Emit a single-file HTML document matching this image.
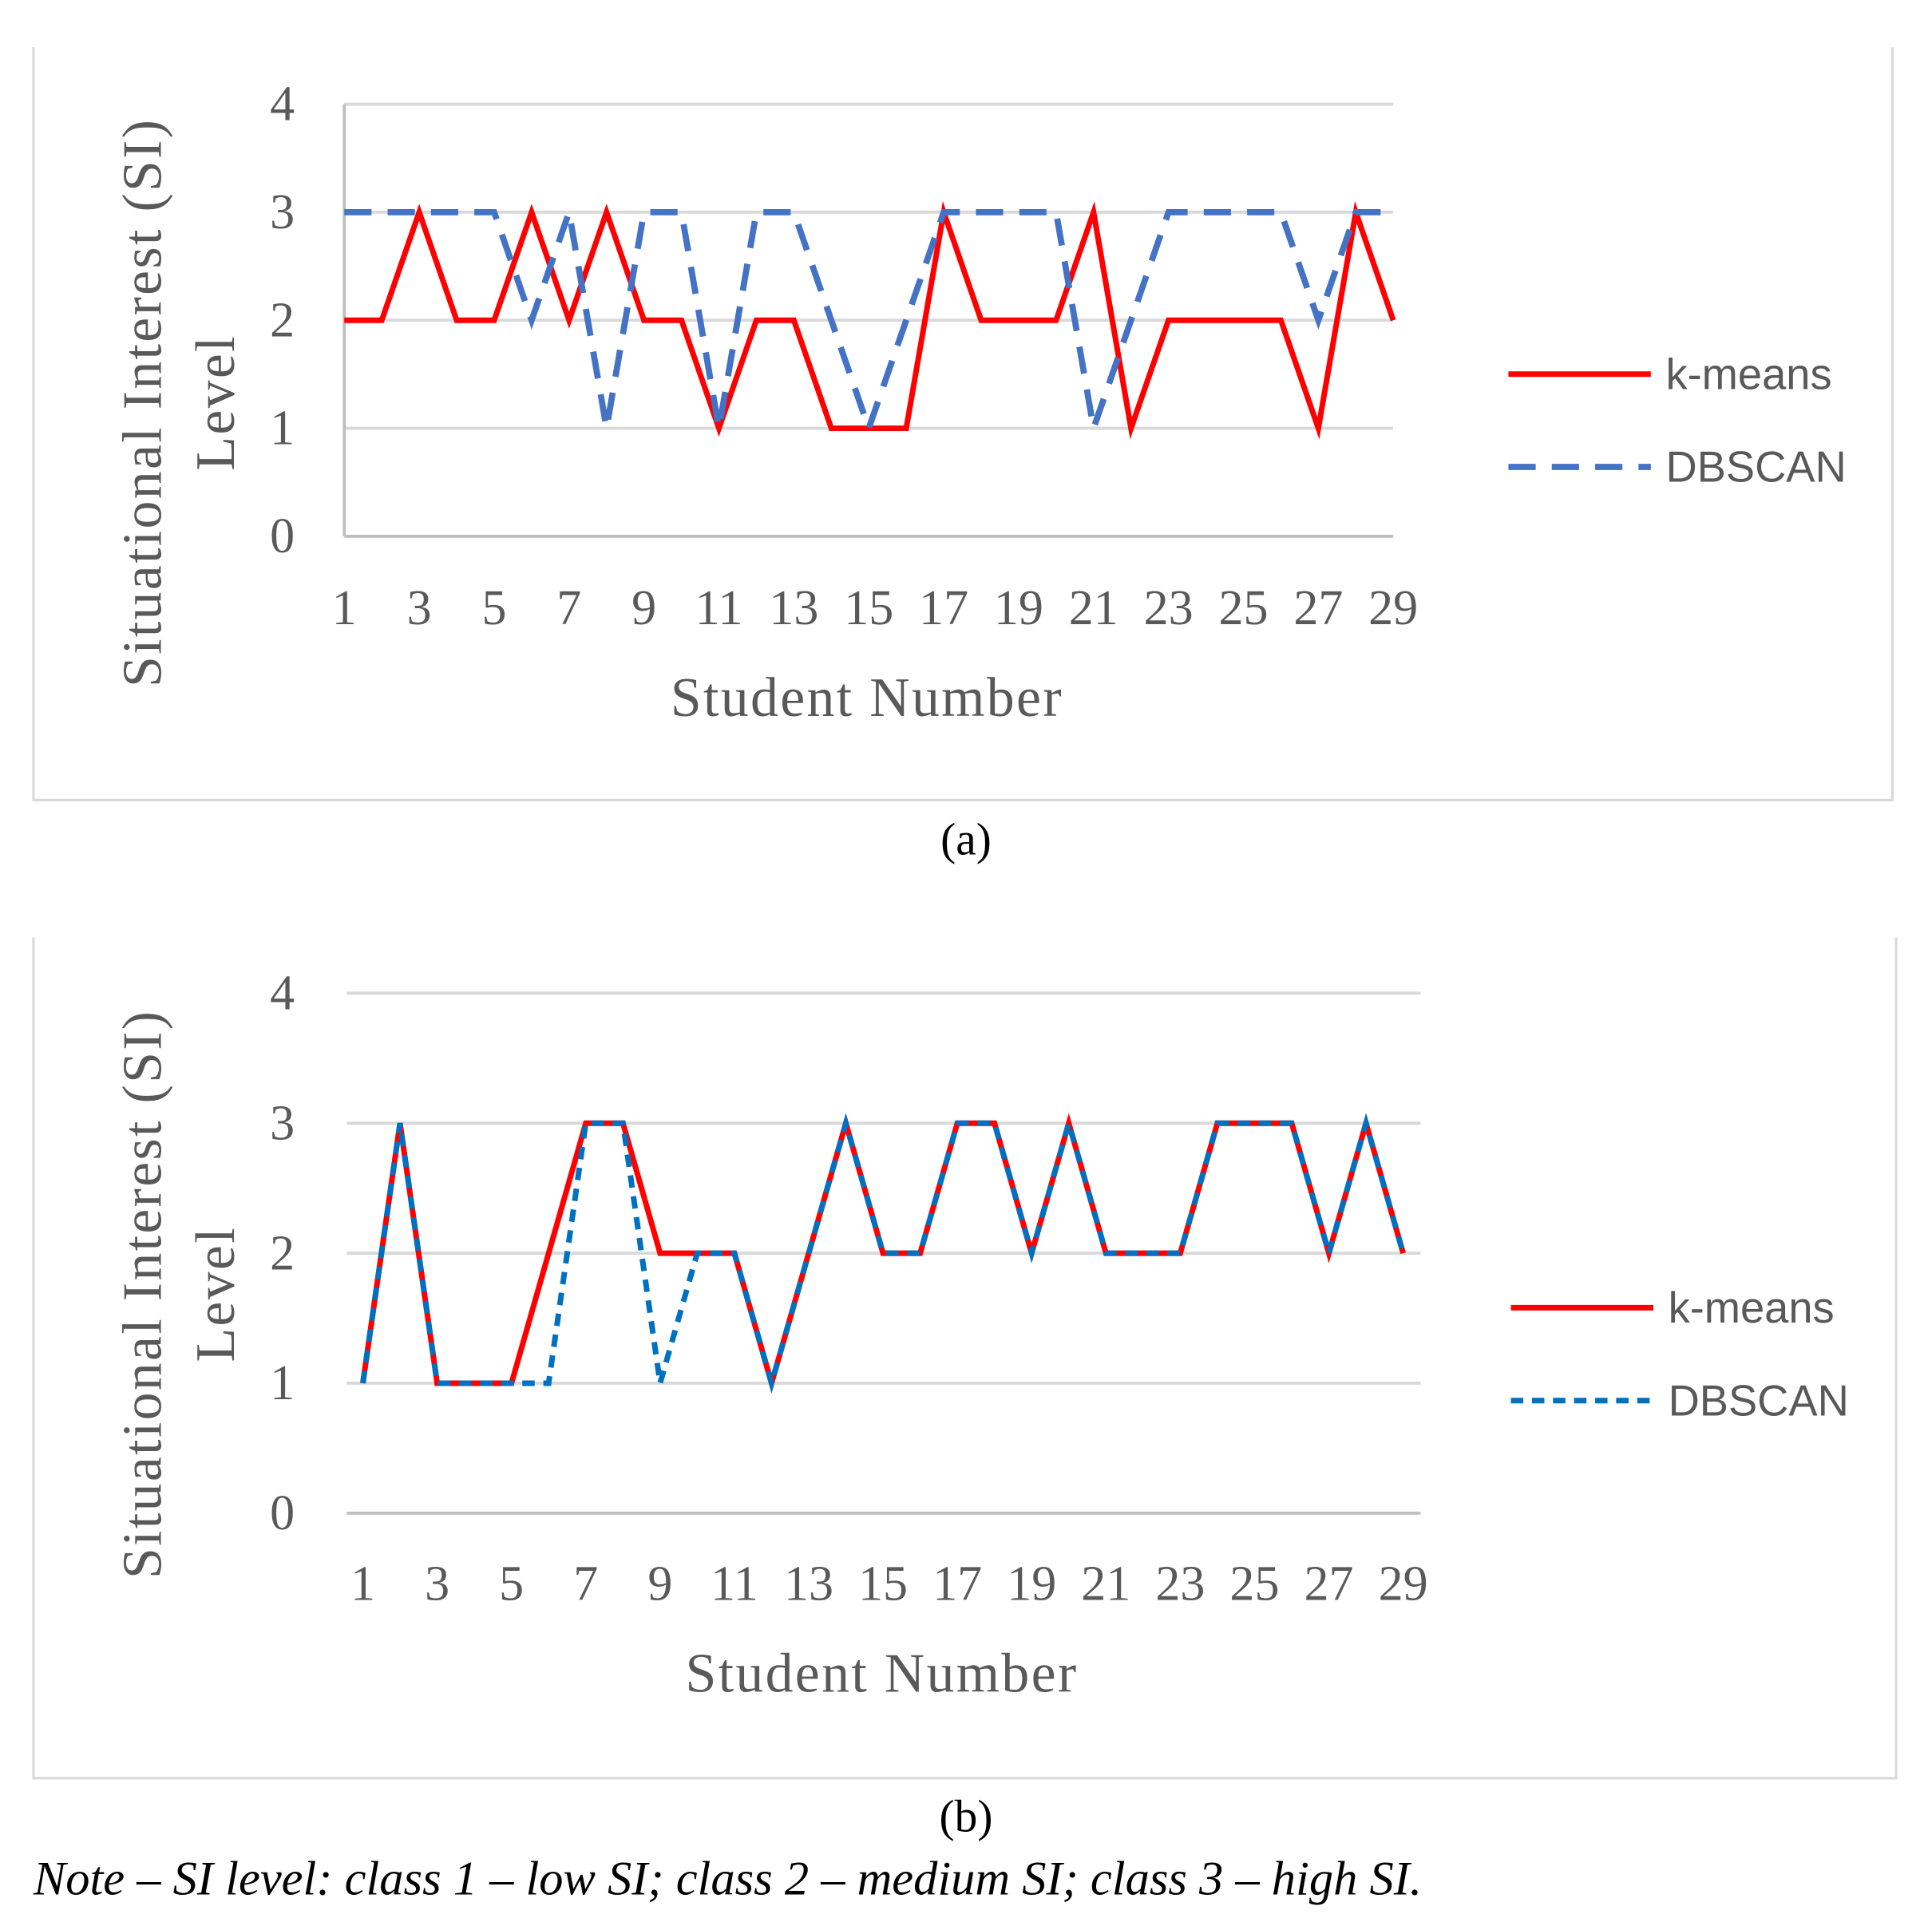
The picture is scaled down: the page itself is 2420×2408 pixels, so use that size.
<!DOCTYPE html>
<html><head><meta charset="utf-8"><style>
html,body{margin:0;padding:0;background:#fff;}
svg{display:block;}
.tk{font-family:"Liberation Serif",serif;font-size:40px;fill:#595959;}
.tt{font-family:"Liberation Serif",serif;font-size:45px;fill:#595959;letter-spacing:1.5px;}
.lg{font-family:"Liberation Sans",sans-serif;font-size:35px;fill:#595959;}
.cap{font-family:"Liberation Serif",serif;font-size:37px;fill:#000;}
.note{font-family:"Liberation Serif",serif;font-size:39px;fill:#000;font-style:italic;}
</style></head><body>
<svg id="fig" width="2420" height="2408" viewBox="0 0 1560 1552" xmlns="http://www.w3.org/2000/svg">
<g id="chartA"></g>
<g id="chartB"></g>
<text class="cap" x="780" y="690" text-anchor="middle">(a)</text>
<text class="cap" x="780" y="1479" text-anchor="middle">(b)</text>
<text class="note" x="27" y="1530">Note – SI level: class 1 – low SI; class 2 – medium SI; class 3 – high SI.</text>
</svg>
<script>
const students = [1,2,3,4,5,6,7,8,9,10,11,12,13,14,15,16,17,18,19,20,21,22,23,24,25,26,27,28,29];
const xTickLabels = [1,3,5,7,9,11,13,15,17,19,21,23,25,27,29];
const yTickLabels = [0,1,2,3,4];
const kmeansA = [2,2,3,2,2,3,2,3,2,2,1,2,2,1,1,1,3,2,2,2,3,1,2,2,2,2,1,3,2];
const dbscanA = [3,3,3,3,3,2,3,1,3,3,1,3,3,2,1,2,3,3,3,3,1,2,3,3,3,3,2,3,3];
const kmeansB = [1,3,1,1,1,2,3,3,2,2,2,1,2,3,2,2,3,3,2,3,2,2,2,3,3,3,2,3,2];
const dbscanB = [1,3,1,1,1,1,3,3,1,2,2,1,2,3,2,2,3,3,2,3,2,2,2,3,3,3,2,3,2];

const NS="http://www.w3.org/2000/svg";
function mk(parent,tag,attrs,text){
  const e=document.createElementNS(NS,tag);
  for(const k in attrs) e.setAttribute(k,attrs[k]);
  if(text!==undefined) e.textContent=text;
  parent.appendChild(e); return e;
}
function drawChart(g,cfg,km,db){
  const sx=v=>cfg.x0+(v-1)*(cfg.x1-cfg.x0)/28;
  const sy=v=>cfg.y0+(v)*(cfg.y4-cfg.y0)/4;
  let e;
  e=mk(g,'path',{d:`M${cfg.fx0} ${cfg.fy0} V${cfg.fy1} H${cfg.fx1} V${cfg.fy0}`,fill:'none',stroke:'#d9d9d9','stroke-width':2});
  
  
  yTickLabels.forEach(v=>{
    e=mk(g,'line',{x1:cfg.gx0,x2:cfg.gx1,y1:sy(v),y2:sy(v),stroke:v===0?'#bfbfbf':'#d9d9d9','stroke-width':2.5});
    
    
    e=mk(g,'text',{class:'tk',x:228,y:sy(v)+13,'text-anchor':'middle'},String(v));
    
    
  });
  if(cfg.yaxis){
    e=mk(g,'line',{x1:cfg.x0,x2:cfg.x0,y1:sy(4),y2:sy(0),stroke:'#bfbfbf','stroke-width':2.5});
    
    
  }
  xTickLabels.forEach(v=>{
    e=mk(g,'text',{class:'tk',x:sx(v),y:cfg.xty,'text-anchor':'middle'},String(v));
    
    
  });
  e=mk(g,'text',{class:'tt',x:cfg.xtx,y:cfg.xty+74,'text-anchor':'middle'},'Student Number');
  
  
  e=mk(g,'text',{class:'tt',x:0,y:0,'text-anchor':'middle',transform:`translate(130 ${cfg.ytc}) rotate(-90)`},'Situational Interest (SI)');
  
  
  e=mk(g,'text',{class:'tt',x:0,y:0,'text-anchor':'middle',transform:`translate(189 ${cfg.ytc}) rotate(-90)`},'Level');
  
  
  const pk=students.map((s,i)=>`${sx(s)},${sy(km[i])}`).join(' ');
  const pd=students.map((s,i)=>`${sx(s)},${sy(db[i])}`).join(' ');
  e=mk(g,'polyline',{points:pk,fill:'none',stroke:'#ff0000','stroke-width':4.5,'stroke-linejoin':'miter'});
  
  
  e=mk(g,'polyline',{points:pd,fill:'none',stroke:cfg.blue,'stroke-width':cfg.bw,'stroke-dasharray':cfg.dash,'stroke-linecap':'butt'});
  
  
  e=mk(g,'line',{x1:cfg.lx,x2:cfg.lx+115,y1:cfg.ly,y2:cfg.ly,stroke:'#ff0000','stroke-width':4.5});
  
  
  e=mk(g,'text',{class:'lg',x:cfg.lx+127,y:cfg.ly+12},'k-means');
  
  
  e=mk(g,'line',{x1:cfg.lx,x2:cfg.lx+115,y1:cfg.ly+75,y2:cfg.ly+75,stroke:cfg.blue,'stroke-width':cfg.bw,'stroke-dasharray':cfg.dash});
  
  
  e=mk(g,'text',{class:'lg',x:cfg.lx+127,y:cfg.ly+87},'DBSCAN');
  
  
}
drawChart(document.getElementById('chartA'),{fx0:27,fx1:1528,fy0:38,fy1:646,x0:278,x1:1125,gx0:278,gx1:1125,y0:433,y4:84,xty:504,xtx:700,ytc:325,yaxis:true,lx:1218,ly:302,blue:'#4472c4',bw:5,dash:'22 13'},kmeansA,dbscanA);
drawChart(document.getElementById('chartB'),{fx0:27,fx1:1531,fy0:757,fy1:1436,x0:293,x1:1133,gx0:280,gx1:1147,y0:1222,y4:802,xty:1292,xtx:712,ytc:1045,yaxis:false,lx:1220,ly:1056,blue:'#0070c0',bw:4.5,dash:'10 7'},kmeansB,dbscanB);
</script>
</body></html>
